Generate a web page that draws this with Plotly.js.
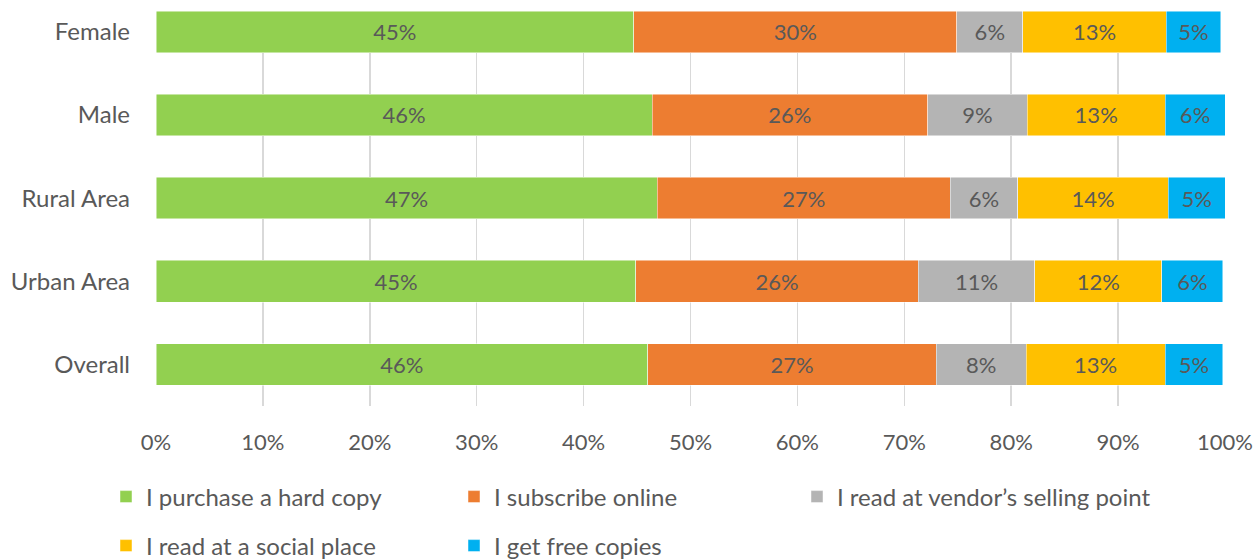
<!DOCTYPE html>
<html>
<head>
<meta charset="utf-8">
<script src="https://cdn.plot.ly/plotly-3.0.1.min.js"></script>
<style>html,body{margin:0;padding:0;background:#fff;}#chart{width:1256px;height:560px;}</style>
</head>
<body>
<div id="chart"></div>
<script>
const categories = ["Overall", "Urban Area", "Rural Area", "Male", "Female"];
const seriesNames = ["I purchase a hard copy", "I subscribe online", "I read at vendor\u2019s selling point", "I read at a social place", "I get free copies"];
const hardCopy   = [46.0, 44.9, 46.9, 46.4, 44.7];
const online     = [27.0, 26.4, 27.4, 25.8, 30.2];
const vendor     = [8.4, 10.9, 6.3, 9.3, 6.2];
const socialPlace= [13.0, 11.9, 14.1, 12.9, 13.4];
const freeCopies = [5.4, 5.7, 5.3, 5.6, 5.1];
const xTicks = [0,10,20,30,40,50,60,70,80,90,100];
const colors = ["#92d050", "#ed7d31", "#b4b4b4", "#ffc000", "#00b0f0"];

const font = "Lato, 'Open Sans', sans-serif";
const gray = "#595959";
const allSeries = [hardCopy, online, vendor, socialPlace, freeCopies];
const legendOf = ["legend", "legend", "legend3", "legend2", "legend2"];

const traces = allSeries.map((vals, i) => ({
  type: "bar",
  orientation: "h",
  name: seriesNames[i],
  y: categories,
  x: vals,
  marker: {color: colors[i], line: {color: "rgba(255,255,255,0.6)", width: 0.8}},
  texttemplate: "%{x:.0f}%",
  textposition: "inside",
  insidetextanchor: "middle",
  textangle: 0,
  constraintext: "none",
  insidetextfont: {family: font, size: 22, color: gray},
  hoverinfo: "skip",
  legend: legendOf[i]
}));

const legendCommon = {
  orientation: "h",
  xref: "container", yref: "container",
  xanchor: "left", yanchor: "middle",
  font: {family: font, size: 24, color: gray},
  entrywidth: 303, entrywidthmode: "pixels", traceorder: "normal",
  bgcolor: "rgba(0,0,0,0)"
};

const layout = {
  width: 1256, height: 560,
  margin: {l: 156, r: 31, t: 11, b: 154},
  barmode: "stack",
  bargap: 0.5,
  paper_bgcolor: "#fff", plot_bgcolor: "#fff",
  font: {family: font, size: 22, color: gray},
  xaxis: {
    range: [0, 100],
    tickvals: xTicks,
    ticktext: xTicks.map(v => v + "%"),
    showgrid: true, gridcolor: "#d9d9d9", gridwidth: 1.5,
    zeroline: false, showline: false,
    ticks: "", ticklabelstandoff: 21,
    tickfont: {family: font, size: 22, color: gray},
    automargin: false,
    fixedrange: true
  },
  yaxis: {
    type: "category",
    categoryorder: "array", categoryarray: categories,
    range: [-0.5, 4.25],
    showgrid: false, zeroline: false, showline: false,
    ticks: "", ticklabelstandoff: 25,
    tickfont: {family: font, size: 24, color: gray},
    automargin: false,
    fixedrange: true
  },
  showlegend: true,
  legend: Object.assign({}, legendCommon, {x: 106 / 1256, y: (560 - 497) / 560}),
  legend3: Object.assign({}, legendCommon, {x: 797 / 1256, y: (560 - 497) / 560, entrywidth: 400}),
  legend2: Object.assign({}, legendCommon, {x: 106 / 1256, y: (560 - 546) / 560})
};

Plotly.newPlot("chart", traces, layout, {displayModeBar: false, staticPlot: true});
</script>
</body>
</html>
